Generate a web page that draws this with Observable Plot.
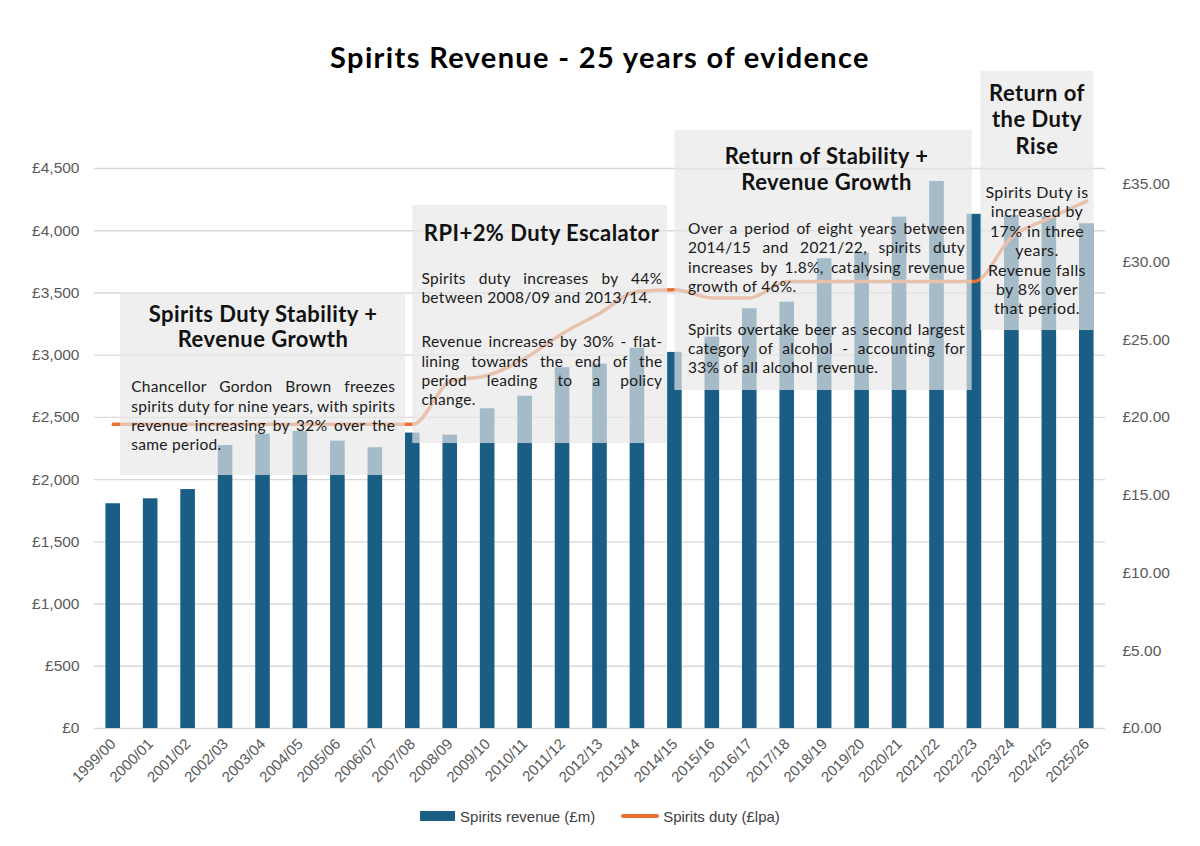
<!DOCTYPE html>
<html>
<head>
<meta charset="utf-8">
<script src="https://cdn.jsdelivr.net/npm/d3@7"></script>
<script src="https://cdn.jsdelivr.net/npm/@observablehq/plot@0.6"></script>
<style>
  html, body { margin: 0; padding: 0; background: #fff; width: 1200px; }
  #title { height: 66px; box-sizing: border-box; padding-top: 45px; text-align: center; white-space: nowrap;
    font-family: Lato, sans-serif; font-weight: 700; font-size: 29px; letter-spacing: 1.35px; color: #000; line-height: 24px; }
  #chart svg { display: block; overflow: visible; }
  #chart g[aria-description="justify"] text { letter-spacing: 0.3px; }
  #chart g[aria-description="center"] text { letter-spacing: 0.4px; }
  #chart g[aria-description="heads"] text { letter-spacing: 0.45px; }
  #legend { display: flex; justify-content: center; align-items: center; gap: 0; height: 40px;
    font-family: "Liberation Sans", Arial, sans-serif; font-size: 15px; color: #404040; margin-top: 6px; }
  .sw-bar { width: 35px; height: 10px; background: #1B5E85; margin-right: 5px; }
  .sw-line { width: 38px; height: 4px; background: #E97132; border-radius: 2px; margin-right: 4px; margin-left: 26px; }
</style>
</head>
<body>
<div id="title">Spirits Revenue - 25 years of evidence</div>
<div id="chart"></div>
<div id="legend">
  <span class="sw-bar"></span><span>Spirits revenue (£m)</span>
  <span class="sw-line"></span><span>Spirits duty (£lpa)</span>
</div>
<script>
// ---------- data ----------
const years = ["1999/00","2000/01","2001/02","2002/03","2003/04","2004/05","2005/06","2006/07","2007/08",
  "2008/09","2009/10","2010/11","2011/12","2012/13","2013/14","2014/15","2015/16","2016/17","2017/18",
  "2018/19","2019/20","2020/21","2021/22","2022/23","2023/24","2024/25","2025/26"];
const revenue = [1806, 1846, 1920, 2274, 2365, 2387, 2309, 2256, 2374, 2357, 2569, 2670, 2899, 2928, 3056,
  3022, 3145, 3373, 3426, 3775, 3820, 4109, 4396, 4132, 4122, 4112, 4056];
const duty = [19.56, 19.56, 19.56, 19.56, 19.56, 19.56, 19.56, 19.56, 19.56, 22.3, 22.7, 23.8, 25.4, 26.7, 28.1,
  28.2, 27.68, 27.68, 28.74, 28.74, 28.74, 28.74, 28.74, 28.74, 31.6, 32.8, 33.9];
const revenueTicks = [0, 500, 1000, 1500, 2000, 2500, 3000, 3500, 4000, 4500];
const dutyTicks = [0, 5, 10, 15, 20, 25, 30, 35];

// annotation texts
const box1Title = ["Spirits Duty Stability +", "Revenue Growth"];
const box1Body = ["Chancellor Gordon Brown freezes", "spirits duty for nine years, with spirits",
  "revenue increasing by 32% over the", "same period."];
const box2Title = ["RPI+2% Duty Escalator"];
const box2Body1 = ["Spirits duty increases by 44%", "between 2008/09 and 2013/14."];
const box2Body2 = ["Revenue increases by 30% - flat-", "lining towards the end of the",
  "period leading to a policy", "change."];
const box3Title = ["Return of Stability +", "Revenue Growth"];
const box3Body1 = ["Over a period of eight years between", "2014/15 and 2021/22, spirits duty",
  "increases by 1.8%, catalysing revenue", "growth of 46%."];
const box3Body2 = ["Spirits overtake beer as second largest", "category of alcohol - accounting for",
  "33% of all alcohol revenue."];
const box4Title = ["Return of", "the Duty", "Rise"];
const box4Body = ["Spirits Duty is", "increased by", "17% in three", "years.", "Revenue falls",
  "by 8% over", "that period."];

// ---------- build ----------
const k = 4500 / 36; // right-axis (duty) to left-axis (revenue) units
const rows = years.map((year, i) => ({year, i, revenue: revenue[i], duty: duty[i]}));

// annotation layout, in chart data units (category index, £m)
const boxes = [
  {x1: 0.195, x2: 7.805, y1: 2033, y2: 3496},
  {x1: 8.0, x2: 14.805, y1: 2290, y2: 4203},
  {x1: 15.0, x2: 22.94, y1: 2716, y2: 4805},
  {x1: 23.17, x2: 26.195, y1: 3198, y2: 5280}
];
const step = 156;
function lines(arr, x, y0, dy, w, justify) {
  return arr.map((t, j) => ({x, y: y0 - j * dy, text: t, w, just: justify && j < arr.length - 1}));
}
const heads = [
  ...lines(box1Title, 4.0, 3265, 201),
  ...lines(box2Title, 11.44, 3916, 201),
  ...lines(box3Title, 19.05, 4537, 208),
  ...lines(box4Title, 24.67, 5046, 213)
];
const bodyLeft = [
  ...lines(box1Body, 0.48, 2702, step, 264, true),
  ...lines(box2Body1, 8.23, 3573, step, 241, true),
  ...lines(box2Body2, 8.23, 3064, step, 241, true),
  ...lines(box3Body1, 15.35, 3975, step, 277, true),
  ...lines(box3Body2, 15.35, 3166, step, 277, true)
];
const bodyCenter = lines(box4Body, 24.67, 4264, step, 0, false);

const annFont = "Lato, 'Open Sans', sans-serif";

const plot = Plot.plot({
  width: 1200,
  height: 724,
  marginTop: 102,
  marginBottom: 62,
  marginLeft: 94,
  marginRight: 95,
  style: {fontFamily: "'Liberation Sans', Arial, sans-serif", fontSize: "15.5px", color: "#595959", background: "transparent", overflow: "visible"},
  x: {type: "linear", domain: [-0.5, 26.5], axis: null},
  y: {domain: [0, 4500], axis: null},
  marks: [
    Plot.ruleY(revenueTicks, {stroke: "#d9d9d9", strokeWidth: 1.4}),
    Plot.rect(rows, {x1: d => d.i - 0.195, x2: d => d.i + 0.195, y1: 0, y2: "revenue", fill: "#1B5E85"}),
    Plot.line(rows, {x: "i", y: d => d.duty * k, stroke: "#E97132", strokeWidth: 3.5, curve: "monotone-x"}),
    Plot.rect(boxes, {x1: "x1", x2: "x2", y1: "y1", y2: "y2", fill: "#e8e8e8", fillOpacity: 0.68}),
    Plot.axisY({ticks: revenueTicks, tickFormat: d => "£" + d3.format(",")(d), tickSize: 0, tickPadding: 15, fontSize: 15.5, label: null}),
    Plot.axisY({anchor: "right", ticks: dutyTicks.map(d => d * k), tickFormat: d => "£" + (d / k).toFixed(2), tickSize: 0, tickPadding: 17, fontSize: 15.5, label: null}),
    Plot.axisX({ticks: years.map((_, i) => i), tickFormat: i => years[i], tickRotate: -45, tickSize: 0, tickPadding: 13, fontSize: 15, label: null}),
    Plot.text(heads, {x: "x", y: "y", text: "text", textAnchor: "middle", lineAnchor: "bottom", fontFamily: annFont, fontWeight: 700, fontSize: 22, fill: "#111", ariaDescription: "heads"}),
    Plot.text(bodyLeft, {x: "x", y: "y", text: "text", textAnchor: "start", lineAnchor: "bottom", fontFamily: annFont, fontSize: 15.5, fill: "#1a1a1a", ariaDescription: "justify"}),
    Plot.text(bodyCenter, {x: "x", y: "y", text: "text", textAnchor: "middle", lineAnchor: "bottom", fontFamily: annFont, fontSize: 16, fill: "#1a1a1a", ariaDescription: "center"})
  ]
});
document.getElementById("chart").append(plot);

// justify body paragraphs (word spacing) like the original text boxes
const justTexts = plot.querySelectorAll('g[aria-description="justify"] text');
justTexts.forEach((el, j) => {
  const d = bodyLeft[j];
  if (!d || !d.just) return;
  const len = el.getComputedTextLength();
  const spaces = (d.text.match(/ /g) || []).length;
  if (spaces > 0) el.style.wordSpacing = ((d.w - len) / spaces) + "px";
});
</script>
</body>
</html>
